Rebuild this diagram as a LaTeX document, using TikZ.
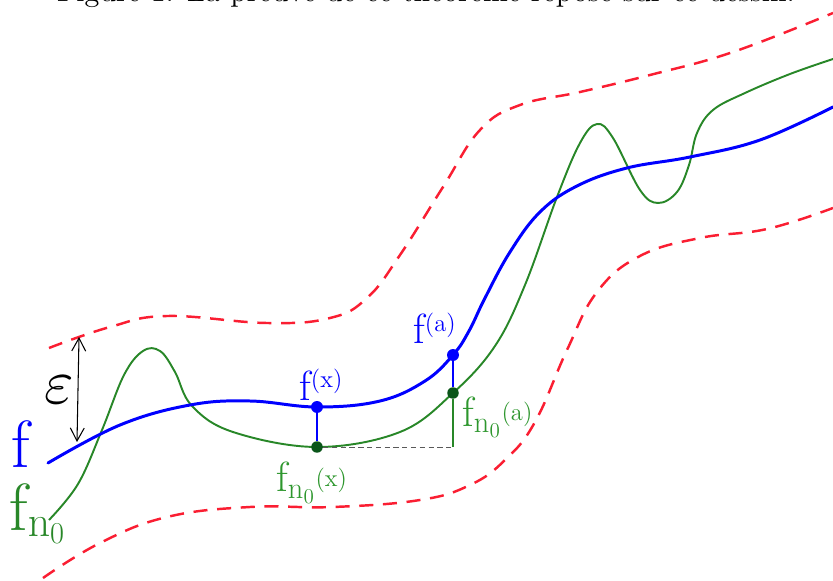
\documentclass[tikz,border=0pt]{standalone}
\usepackage{amsmath,amssymb}
\usepackage{graphicx}
\usetikzlibrary{arrows.meta,positioning,calc}
\definecolor{fCol}{RGB}{0,0,255}
\definecolor{fnCol}{RGB}{40,135,40}
\definecolor{dotCol}{RGB}{10,85,25}
\definecolor{labCol}{RGB}{45,150,45}
\definecolor{epsCol}{RGB}{250,30,50}
\newcommand{\argsm}[2][7pt]{\raisebox{#1}{\fontsize{14}{15}\selectfont #2}}
\tikzset{
  fcurve/.style={fCol,line width=1.7pt,line cap=round},
  fncurve/.style={fnCol,line width=1.1pt},
  tube/.style={epsCol,line width=1.4pt,dash pattern=on 8pt off 5.5pt},
  fdot/.style={circle,fill=fCol,inner sep=0pt,minimum size=2.4mm},
  fndot/.style={circle,fill=dotCol,inner sep=0pt,minimum size=2.3mm},
  biglab/.style={font=\fontsize{38}{40}\selectfont,inner sep=0pt},
  ptlab/.style={font=\fontsize{24}{26}\selectfont,anchor=base west,inner sep=0pt},
  gap/.style={black!65,densely dashed,line width=0.5pt},
}

\begin{document}
\begin{tikzpicture}[x=0.02cm,y=-0.02cm]
  \useasboundingbox (0,0) rectangle (833,581);
  % caption, cut at the top
  \node[anchor=base,inner sep=0pt] (cap) at (426,2) {\resizebox{14.76cm}{!}{Figure 1: La preuve de ce théorème repose sur ce dessin.}};
  % the epsilon tube
  \draw[tube] plot[smooth,tension=0.7] coordinates {(49,348) (110,327) (167,316) (267,323) (330,318) (367,298) (400,255) (443,187) (480,130) (520,105) (580,92) (650,75) (733,52) (833,13)};
  \draw[tube] plot[smooth,tension=0.7] coordinates {(43,578) (100,543) (167,517) (250,507) (333,507) (420,500) (470,485) (505,460) (535,422) (567,350) (597,292) (640,256) (700,238) (767,229) (833,208)};
  % f_{n_0}
  \draw[fncurve] plot[smooth,tension=0.62] coordinates {(49,520) (78,484) (102,430) (124,375) (143,351) (160,351) (175,372) (192,406) (233,432) (317,447) (400,432) (453,393) (495,346) (525,285) (557,197) (580,143) (597,124) (613,138) (640,190) (658,203) (677,192) (689,165) (697,133) (713,110) (745,93) (790,74) (833,59)};
  % f
  \draw[fcurve] plot[smooth,tension=0.65] coordinates {(48,463) (120,425) (190,405) (250,401) (317,407) (380,401) (425,381) (453,355) (469,331) (485,298) (510,252) (540,212) (577,186) (627,168) (690,157) (760,140) (833,107)};
  % points and gaps
  \node[fdot] (fx) at (317,407) {};
  \node[fndot] (fnx) at (317,447) {};
  \node[fdot] (fa) at (453,355) {};
  \node[fndot] (fna) at (453,393) {};
  \coordinate (foot) at (453,447);
  \draw[fCol,line width=1.2pt] (fx) -- (fnx);
  \draw[fCol,line width=1.2pt] (fa) -- (fna);
  \draw[fnCol,line width=1pt] (fna) -- (foot);
  \draw[gap] (fnx) -- (foot);
  % epsilon
  \coordinate (epsTop) at (79,337);
  \coordinate (epsBot) at (77,442);
  \draw[{Straight Barb[length=2.6mm,width=2.8mm]}-{Straight Barb[length=2.6mm,width=2.8mm]},line width=0.6pt] (epsTop) -- (epsBot);
  \node[inner sep=0pt,font=\fontsize{10}{12}\selectfont,scale=3.6] (eps) at (59,390) {$\varepsilon$};
  % labels
  \node[biglab,text=fCol,anchor=base west] (lf) at (11,467) {f};
  \node[biglab,text=fnCol,anchor=base west] (lfn) at (9,530) {f$_{\mathrm{n}_0}$};
  \node[ptlab,text=fCol] (lfx) at (299,400) {f\argsm{(x)}};
  \node[ptlab,text=fCol] (lfa) at (413,344) {f\argsm{(a)}};
  \node[ptlab,text=labCol] (lfnx) at (276,492) {f$_{\mathrm{n}_0}$\argsm[3pt]{(x)}};
  \node[ptlab,text=labCol] (lfna) at (462,426) {f$_{\mathrm{n}_0}$\argsm[3pt]{(a)}};
\end{tikzpicture}
\end{document}
